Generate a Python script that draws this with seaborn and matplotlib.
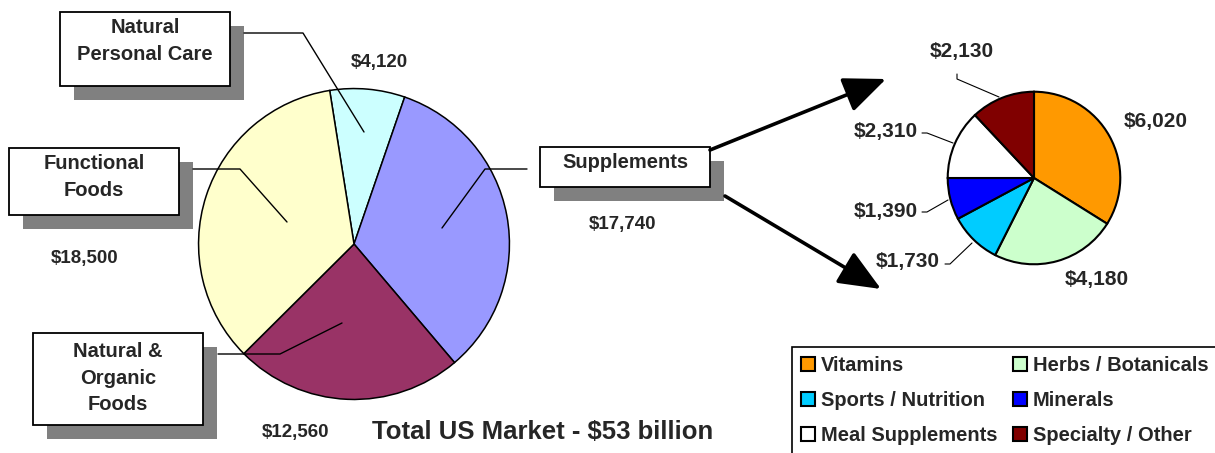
import matplotlib
matplotlib.use("Agg")
import matplotlib.pyplot as plt
from matplotlib.patches import Rectangle
import seaborn as sns

# data
market_labels = ["Natural\nPersonal Care", "Supplements", "Natural &\nOrganic\nFoods", "Functional\nFoods"]
market_values = [4120, 17740, 12560, 18500]
market_colors = ["#CCFFFF", "#9999FF", "#993366", "#FFFFCC"]

supp_labels = ["Vitamins", "Herbs / Botanicals", "Sports / Nutrition", "Minerals",
               "Meal Supplements", "Specialty / Other"]
supp_values = [6020, 4180, 1730, 1390, 2310, 2130]
supp_colors = ["#FF9900", "#CCFFCC", "#00CCFF", "#0000FF", "#FFFFFF", "#800000"]

title = "Total US Market - $53 billion"

sns.set_theme(style="white")
plt.rcParams["font.family"] = ["Liberation Sans", "DejaVu Sans"]
plt.rcParams["font.weight"] = "bold"

W, H = 1215, 453
fig = plt.figure(figsize=(W / 100, H / 100), dpi=100)


def pix_axes(cx, cy, r):
    return fig.add_axes([(cx - r) / W, (H - cy - r) / H, 2 * r / W, 2 * r / H])


# big pie
ax1 = pix_axes(354, 244, 157)
ax1.pie(market_values, colors=sns.color_palette(market_colors), startangle=99, counterclock=False,
        wedgeprops=dict(edgecolor="black", linewidth=1.1))
ax1.set_xlim(-1.01, 1.01)
ax1.set_ylim(-1.01, 1.01)
ax1.axis("off")

# supplements breakdown pie
ax2 = pix_axes(1034, 178, 88)
wedges, _ = ax2.pie(supp_values, colors=sns.color_palette(supp_colors), startangle=90, counterclock=False,
                    wedgeprops=dict(edgecolor="black", linewidth=1.5))
ax2.set_xlim(-1.02, 1.02)
ax2.set_ylim(-1.02, 1.02)
ax2.axis("off")

# overlay in pixel coordinates for boxes, leaders and labels
ov = fig.add_axes([0, 0, 1, 1], zorder=5)
ov.set_xlim(0, W)
ov.set_ylim(H, 0)
ov.axis("off")
ov.patch.set_alpha(0)


def label_box(x0, y0, x1, y1, ty, text, fs=14.5):
    ov.add_patch(Rectangle((x0 + 14, y0 + 14), x1 - x0, y1 - y0, color="#808080", lw=0))
    ov.add_patch(Rectangle((x0, y0), x1 - x0, y1 - y0, facecolor="white", edgecolor="black", lw=1.3))
    ov.text((x0 + x1) / 2, ty, text, ha="center", va="center", fontsize=fs,
            fontweight="bold", linespacing=1.5)


def leader(pts, lw=1.0):
    xs, ys = zip(*pts)
    ov.plot(xs, ys, color="black", lw=lw)


box_pos = [(60, 12, 230, 86, 41), (540, 147, 710, 187, 163), (33, 333, 203, 425, 378), (9, 148, 179, 215, 177)]
leaders = [[(244, 33), (303, 33), (364, 132)],
           [(527, 169), (485, 169), (442, 228)],
           [(218, 354), (280, 354), (342, 323)],
           [(193, 169), (240, 169), (287, 222)]]
value_pos = [(379, 62), (623, 225), (296, 433), (85, 258)]

for lab, val, bp, ld, vp in zip(market_labels, market_values, box_pos, leaders, value_pos):
    leader(ld)
    label_box(*bp, lab)
    ov.text(vp[0], vp[1], f"${val:,}", ha="center", va="center", fontsize=13.5, fontweight="bold")

ov.text(543, 432, title, ha="center", va="center", fontsize=18.5, fontweight="bold")

# arrows to the breakdown
for start, end in [((710, 150), (886, 79)), ((725, 196), (881, 289))]:
    ov.annotate("", xy=end, xytext=start,
                arrowprops=dict(arrowstyle="-|>,head_length=1.3,head_width=0.55", lw=2.6,
                                color="black", mutation_scale=20, shrinkA=0, shrinkB=0))

# small pie value labels
supp_value_pos = [(1156, 122), (1097, 279), (908, 262), (886, 211), (886, 131), (962, 52)]
supp_leaders = [None, None,
                [(945, 264), (950, 264), (972, 243)],
                [(922, 212), (927, 212), (948, 200)],
                [(922, 133), (927, 133), (953, 143)],
                [(957, 74), (957, 79), (999, 97)]]
for val, vp, ld in zip(supp_values, supp_value_pos, supp_leaders):
    if ld:
        leader(ld, lw=0.8)
    ov.text(vp[0], vp[1], f"${val:,}", ha="center", va="center", fontsize=15, fontweight="bold")

# legend
ov.add_patch(Rectangle((792, 347), 460, 130, facecolor="white", edgecolor="black", lw=1.2))
order = [0, 2, 4, 1, 3, 5]
leg = fig.legend([wedges[i] for i in order], [supp_labels[i] for i in order],
                 loc="upper left", bbox_to_anchor=(787 / W, 1 - 342 / H), ncol=2, frameon=False,
                 fontsize=14.5, handlelength=0.7, handleheight=0.7, handletextpad=0.3,
                 columnspacing=0.75, labelspacing=0.8, borderpad=0.2)
leg.set_zorder(10)
for t in leg.get_texts():
    t.set_fontweight("bold")

fig.savefig("out.png", dpi=100)
